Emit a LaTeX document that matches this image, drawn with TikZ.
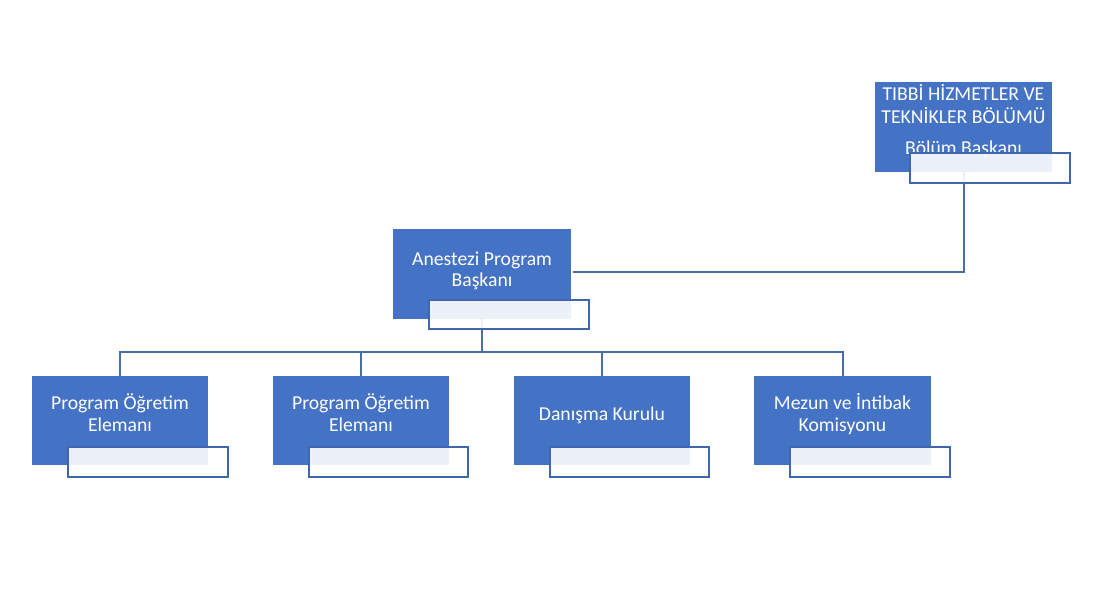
\documentclass[tikz,border=0pt]{standalone}
\usepackage{fontspec}
\setmainfont{Carlito}
\definecolor{boxblue}{HTML}{4472C4}
\definecolor{edgeblue}{HTML}{3F66AE}
\definecolor{linkblue}{HTML}{4A6DA8}
\tikzset{
  bluebox/.style={fill=boxblue, draw=none, inner sep=0pt, minimum width=177pt, minimum height=90pt},
  subbox/.style={fill=white, fill opacity=0.9, draw=edgeblue, draw opacity=1, line width=2pt, inner sep=0pt, minimum width=160pt, minimum height=30pt},
  lbl/.style={text=white, font=\fontsize{19.7}{21}\selectfont, anchor=base, inner sep=0pt},
  link/.style={draw=linkblue, line width=2pt}
}
\begin{document}
\begin{tikzpicture}[x=1pt,y=-1pt]
\useasboundingbox (0,0) rectangle (1100,600);
% blue boxes
\node[bluebox] (top) at (963.5,127) {};
\node[bluebox, minimum width=178pt] (anes) at (482,274) {};
\node[bluebox, minimum width=176pt, minimum height=89pt] (c1) at (120,420.5) {};
\node[bluebox, minimum width=176pt, minimum height=89pt] (c2) at (361,420.5) {};
\node[bluebox, minimum width=176pt, minimum height=89pt] (c3) at (602,420.5) {};
\node[bluebox, minimum width=177pt, minimum height=89pt] (c4) at (842.5,420.5) {};
% texts
\node[lbl] (t1) at (963.5,100.5) {TIBBİ HİZMETLER VE};
\node[lbl] (t2) at (963.5,123) {TEKNİKLER BÖLÜMÜ};
\node[lbl] (t3) at (963.5,154.5) {Bölüm Başkanı};
\node[lbl] (a1) at (482,265.5) {Anestezi Program};
\node[lbl] (a2) at (482,286) {Başkanı};
\node[lbl] (p1a) at (120,409.5) {Program Öğretim};
\node[lbl] (p1b) at (120,431) {Elemanı};
\node[lbl] (p2a) at (361,409.5) {Program Öğretim};
\node[lbl] (p2b) at (361,431) {Elemanı};
\node[lbl] (d1) at (602,420) {Danışma Kurulu};
\node[lbl] (m1) at (842.5,409.5) {Mezun ve İntibak};
\node[lbl] (m2) at (842.5,431) {Komisyonu};
% connectors
\coordinate (bus) at (482,352);
\draw[link] (top.south) |- ([xshift=2pt,yshift=2pt]anes.east);
\draw[link] (anes.south) -- (bus);
\draw[link] (bus) -| (c1.north);
\draw[link] (bus) -| (c2.north);
\draw[link] (bus) -| (c3.north);
\draw[link] (bus) -| (c4.north);
% sub boxes
\node[subbox] (stop) at (990,168) {};
\node[subbox, minimum height=29pt] (sanes) at (509,314.5) {};
\node[subbox] (s1) at (148,462) {};
\node[subbox, minimum width=159pt] (s2) at (388.5,462) {};
\node[subbox, minimum width=159pt] (s3) at (629.5,462) {};
\node[subbox] (s4) at (870,462) {};
\end{tikzpicture}
\end{document}
